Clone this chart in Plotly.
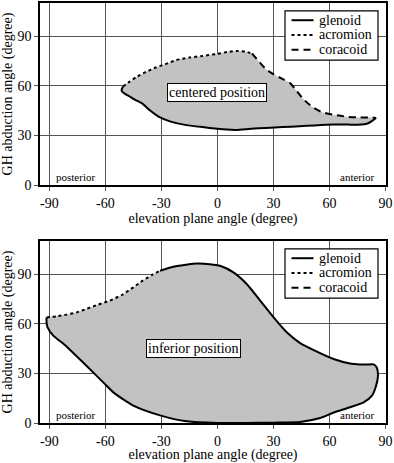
import plotly.graph_objects as go
from plotly.subplots import make_subplots

# ---- data: centered position (top) ----
top_acromion_x = [-50.5, -47, -43, -38, -33, -28, -22, -15, -8, 0, 6, 11, 15, 18.5]
top_acromion_y = [59.5, 62.5, 65.5, 68.5, 71, 73, 75.5, 77, 78, 79.3, 80.5, 81, 80.7, 79.5]
top_coracoid_x = [18.5, 22, 26, 30, 35, 39, 42, 46, 51, 56, 62, 69, 76, 83, 85]
top_coracoid_y = [79.5, 75, 70, 67, 64, 61.5, 57.5, 52, 47, 44, 42.5, 41.3, 40.8, 40.8, 40.5]
top_glenoid_x = [85, 82.5, 80, 77, 70, 62, 52, 44, 35, 26, 18, 10, 5, 0, -8, -18, -25, -31,
                 -36, -40, -44, -47, -50, -51.3, -51, -50.5]
top_glenoid_y = [40.5, 38.5, 37, 36.5, 36.5, 36.5, 36, 35.5, 35, 34.5, 34, 33.3, 33.5, 34, 35,
                 36.5, 38.3, 41, 45, 49, 51.5, 53.5, 55.5, 57, 58.5, 59.5]

# ---- data: inferior position (bottom) ----
bot_acromion_x = [-91.5, -86, -80.8, -75, -70, -64, -57.6, -51, -45, -40, -35, -30.7]
bot_acromion_y = [63.8, 64.5, 65.5, 67, 69, 71.5, 74, 77.5, 82, 86, 89.5, 92]
bot_glenoid_x = [-30.7, -23.6, -16, -11, -4, 1.4, 8.6, 15.7, 22.9, 30, 37, 44.3, 53, 62.2, 71,
                 76.5, 80, 83.7, 85.4, 86, 85, 82.8, 78.3, 71, 62, 55, 44.3, 30, 15, 0, -16.4,
                 -30.7, -45, -55.7, -61, -70, -80.8, -88, -91, -91.5, -91.5]
bot_glenoid_y = [92, 94.4, 95.8, 96.4, 96, 95, 91, 84, 74, 64, 55, 48.3, 43.3, 38.7, 36, 35.4,
                 35.3, 35.4, 33.4, 28.4, 22.5, 16.5, 12.5, 9.5, 6.2, 3, 0.6, 0.2, 0, 0, 1, 4.6,
                 10.5, 18.5, 24.4, 34.4, 46.3, 53, 58, 61, 63.8]

x_ticks = [-90, -60, -30, 0, 30, 60, 90]
y_ticks = [0, 30, 60, 90]
series_names = ["glenoid", "acromion", "coracoid"]
series_dash = ["solid", "3px,3px", "7px,5px"]
panel_labels = ["centered position", "inferior position"]
label_pos = [(0, 56), (-13, 45)]

FONT = "Liberation Serif, Times New Roman, serif"
FILL = "#c2c2c2"
LW = 2

fig = make_subplots(rows=2, cols=1, vertical_spacing=0.1333)

def add_panel(row, ac_x, ac_y, co_x, co_y, gl_x, gl_y):
    px = ac_x + co_x + gl_x
    py = ac_y + co_y + gl_y
    fig.add_trace(go.Scatter(x=px, y=py, fill="toself", fillcolor=FILL, mode="lines",
                             line=dict(width=0, color=FILL, shape="spline", smoothing=0.6),
                             showlegend=False, hoverinfo="skip"), row=row, col=1)
    for name, dash, xs, ys in zip(series_names, series_dash,
                                  [gl_x, ac_x, co_x], [gl_y, ac_y, co_y]):
        if not xs:
            continue
        fig.add_trace(go.Scatter(x=xs, y=ys, mode="lines", name=name, showlegend=False,
                                 line=dict(color="black", width=LW, dash=dash,
                                           shape="spline", smoothing=0.6)),
                      row=row, col=1)

add_panel(1, top_acromion_x, top_acromion_y, top_coracoid_x, top_coracoid_y,
          top_glenoid_x, top_glenoid_y)
add_panel(2, bot_acromion_x, bot_acromion_y, [], [], bot_glenoid_x, bot_glenoid_y)

axis_common = dict(showline=True, mirror=True, linecolor="black", linewidth=1.5,
                   showgrid=True, gridcolor="#555555", gridwidth=1, zeroline=False,
                   ticks="outside", ticklen=4, tickcolor="#555555",
                   tickfont=dict(family=FONT, size=14, color="black"))

for r in (1, 2):
    fig.update_xaxes(range=[-95, 90.3], tickvals=x_ticks, ticktext=[str(v) for v in x_ticks],
                     title=dict(text="elevation plane angle (degree)", standoff=4,
                                font=dict(family=FONT, size=14, color="black")),
                     row=r, col=1, **axis_common)
    fig.update_yaxes(range=[0, 110], tickvals=y_ticks, ticktext=[str(v) for v in y_ticks],
                     title=dict(text="GH abduction angle (degree)", standoff=3,
                                font=dict(family=FONT, size=14, color="black")),
                     row=r, col=1, **axis_common)

# legend box (per panel), in axis-domain coordinates
PLOT_W, PLOT_H = 346.0, 185.0
for i in range(2):
    xd = "x domain" if i == 0 else "x2 domain"
    yd = "y domain" if i == 0 else "y2 domain"
    fig.add_shape(type="rect", xref=xd, yref=yd,
                  x0=245 / PLOT_W, x1=338 / PLOT_W, y0=1 - 58 / PLOT_H, y1=1 - 8 / PLOT_H,
                  fillcolor="white", line=dict(color="black", width=1.2), layer="above")
    for k, (name, dash) in enumerate(zip(series_names, series_dash)):
        yk = 1 - (17.5 + 15 * k) / PLOT_H
        fig.add_shape(type="line", xref=xd, yref=yd, x0=251.5 / PLOT_W, x1=273.5 / PLOT_W,
                      y0=yk, y1=yk, line=dict(color="black", width=LW, dash=dash),
                      layer="above")
        fig.add_annotation(xref=xd, yref=yd, x=276.5 / PLOT_W, y=yk, text=name,
                           xanchor="left", yanchor="middle", showarrow=False,
                           font=dict(family=FONT, size=14, color="black"))

for i, (txt, (lx, ly)) in enumerate(zip(panel_labels, label_pos)):
    ax = "x" if i == 0 else "x2"
    ay = "y" if i == 0 else "y2"
    fig.add_annotation(x=lx, y=ly, xref=ax, yref=ay, text=txt, showarrow=False,
                       font=dict(family=FONT, size=14, color="black"),
                       bgcolor="white", bordercolor="black", borderwidth=1, borderpad=1)
    fig.add_annotation(x=-76, y=4.8, xref=ax, yref=ay, text="posterior", showarrow=False,
                       font=dict(family=FONT, size=11, color="black"))
    fig.add_annotation(x=75, y=4.8, xref=ax, yref=ay, text="anterior", showarrow=False,
                       font=dict(family=FONT, size=11, color="black"))

fig.update_layout(
    width=394, height=463,
    margin=dict(l=40, r=8, t=1, b=35),
    paper_bgcolor="white", plot_bgcolor="white",
    font=dict(family=FONT, color="black"),
    showlegend=False,
)

fig.write_html("out.html", config={"displayModeBar": False},
               post_script="document.body.style.margin='0px';")
